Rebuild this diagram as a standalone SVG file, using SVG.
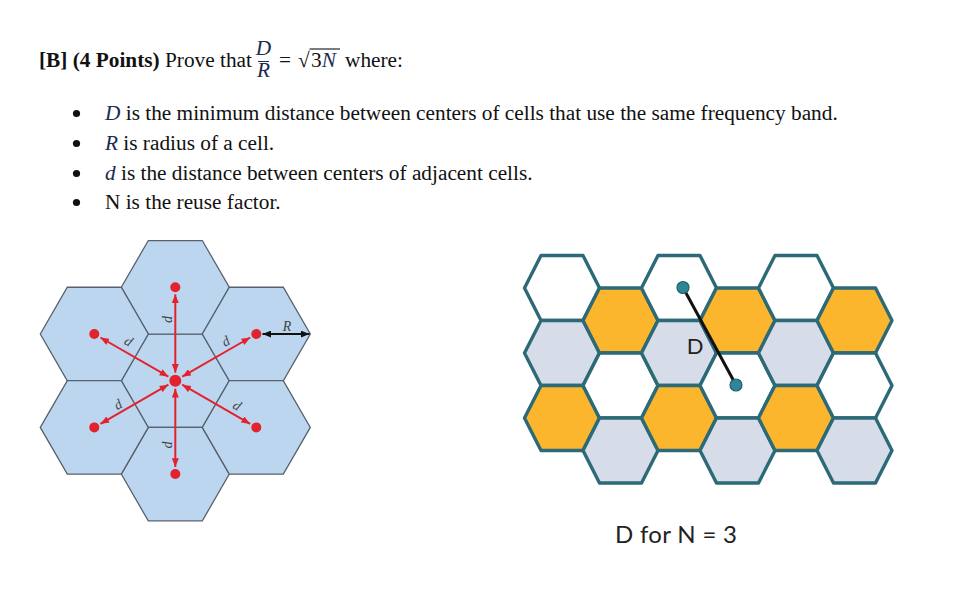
<svg xmlns="http://www.w3.org/2000/svg" width="954" height="612" viewBox="0 0 954 612">
<style>
.t{font-family:"Liberation Serif","Times New Roman",serif;font-size:21.3px;fill:#111}
.m{font-style:italic;fill:#1c2b4f}
.bu{fill:#111}
.bh{fill:#bcd6ef;stroke:#58616c;stroke-width:1.3}
.ra{stroke:#e2232e;stroke-width:2;fill:none;marker-start:url(#rh);marker-end:url(#rh)}
.rd{fill:#e2232e}
.dl{font-family:"Liberation Serif","Times New Roman",serif;font-style:italic;font-size:14px;fill:#444;text-anchor:middle}
.gh{stroke:#2c6a77;stroke-width:3.4;stroke-linejoin:round}
.w{fill:#ffffff}.o{fill:#fbb62e}.g{fill:#d7dce9}
</style>
<defs>
<marker id="rh" viewBox="0 0 10 8" refX="10" refY="4" markerWidth="9" markerHeight="7" markerUnits="userSpaceOnUse" orient="auto-start-reverse"><path d="M0,0 L10,4 L0,8 z" fill="#e2232e"/></marker>
<marker id="kh" viewBox="0 0 10 8" refX="10" refY="4" markerWidth="9" markerHeight="7" markerUnits="userSpaceOnUse" orient="auto-start-reverse"><path d="M0,0 L10,4 L0,8 z" fill="#111"/></marker>
<path id="hb" d="M-54,0 L-27,-46.77 L27,-46.77 L54,0 L27,46.77 L-27,46.77 Z"/>
<path id="hg" d="M-37.5,0 L-21,-32.5 L21,-32.5 L37.5,0 L21,32.5 L-21,32.5 Z"/>
</defs>
<rect width="954" height="612" fill="#ffffff"/>

<g id="header">
<text class="t" x="39" y="67"><tspan font-weight="bold">[B] (4 Points)</tspan> Prove that</text>
<text class="t m" x="263.5" y="55" font-size="11" text-anchor="middle">D</text>
<line x1="258" y1="61.5" x2="269" y2="61.5" stroke="#1c2b4f" stroke-width="1"/>
<text class="t m" x="263.5" y="76.5" font-size="11" text-anchor="middle">R</text>
<text class="t" x="279" y="67" font-size="20">=</text>
<text class="t" x="298" y="67" font-family="DejaVu Sans" font-size="20">√</text>
<line x1="309.5" y1="49" x2="340" y2="49" stroke="#111" stroke-width="1.1"/>
<text class="t" x="311" y="67">3<tspan class="m">N</tspan></text>
<text class="t" x="345" y="67">where:</text>
</g>

<g id="bullets">
<circle class="bu" cx="76.5" cy="113.5" r="3.6"/>
<circle class="bu" cx="76.5" cy="143.5" r="3.6"/>
<circle class="bu" cx="76.5" cy="173.5" r="3.6"/>
<circle class="bu" cx="76.5" cy="202.5" r="3.6"/>
<text class="t" x="105" y="120"><tspan class="m">D</tspan> is the minimum distance between centers of cells that use the same frequency band.</text>
<text class="t" x="105" y="150"><tspan class="m">R</tspan> is radius of a cell.</text>
<text class="t" x="105" y="180"><tspan class="m">d</tspan> is the distance between centers of adjacent cells.</text>
<text class="t" x="105" y="209">N is the reuse factor.</text>
</g>

<g id="left-cluster">
<g id="cell-c"><use href="#hb" class="bh" x="175.3" y="380.7"/></g>
<g id="cell-t"><use href="#hb" class="bh" x="175.3" y="287.3"/></g>
<g id="cell-b"><use href="#hb" class="bh" x="175.3" y="474.1"/></g>
<g id="cell-ul"><use href="#hb" class="bh" x="94.3" y="334"/></g>
<g id="cell-ur"><use href="#hb" class="bh" x="256.3" y="334"/></g>
<g id="cell-ll"><use href="#hb" class="bh" x="94.3" y="427.4"/></g>
<g id="cell-lr"><use href="#hb" class="bh" x="256.3" y="427.4"/></g>
<g id="left-connectors">
<line class="ra" x1="175.3" y1="372.7" x2="175.3" y2="294.3"/>
<line class="ra" x1="175.3" y1="388.7" x2="175.3" y2="467"/>
<line class="ra" x1="168.4" y1="376.7" x2="100.4" y2="337.5"/>
<line class="ra" x1="182.2" y1="376.7" x2="250.2" y2="337.5"/>
<line class="ra" x1="168.4" y1="384.7" x2="100.4" y2="423.9"/>
<line class="ra" x1="182.2" y1="384.7" x2="250.2" y2="423.9"/>
<line x1="262.5" y1="334" x2="309.5" y2="334" stroke="#111" stroke-width="2" marker-start="url(#kh)" marker-end="url(#kh)"/>
</g>
<g id="dots">
<circle class="rd" cx="175.3" cy="380.7" r="6"/>
<circle class="rd" cx="175.3" cy="287.3" r="5"/>
<circle class="rd" cx="175.3" cy="474" r="5"/>
<circle class="rd" cx="94.3" cy="334" r="5"/>
<circle class="rd" cx="256.3" cy="334" r="5"/>
<circle class="rd" cx="94.3" cy="427.4" r="5"/>
<circle class="rd" cx="256.3" cy="427.4" r="5"/>
</g>
<g id="labels">
<text class="dl" transform="translate(168.3,319.5) rotate(-90)" y="4">d</text>
<text class="dl" transform="translate(168.3,445) rotate(-90)" y="4">d</text>
<text class="dl" transform="translate(128.3,341.7) rotate(30)" y="4">d</text>
<text class="dl" transform="translate(226,341.7) rotate(-30)" y="4">d</text>
<text class="dl" transform="translate(118.3,405) rotate(-30)" y="4">d</text>
<text class="dl" transform="translate(236.7,406) rotate(30)" y="4">d</text>
<text class="dl" x="287" y="331" font-size="13" fill="#333">R</text>
</g>
</g>

<g id="right-grid">
<g id="c0r0"><use href="#hg" class="gh w" x="562" y="288"/></g>
<g id="c0r1"><use href="#hg" class="gh g" x="562" y="353"/></g>
<g id="c0r2"><use href="#hg" class="gh o" x="562" y="418"/></g>
<g id="c1r0"><use href="#hg" class="gh o" x="620.5" y="320.5"/></g>
<g id="c1r1"><use href="#hg" class="gh w" x="620.5" y="385.5"/></g>
<g id="c1r2"><use href="#hg" class="gh g" x="620.5" y="450.5"/></g>
<g id="c2r0"><use href="#hg" class="gh w" x="679" y="288"/></g>
<g id="c2r1"><use href="#hg" class="gh g" x="679" y="353"/></g>
<g id="c2r2"><use href="#hg" class="gh o" x="679" y="418"/></g>
<g id="c3r0"><use href="#hg" class="gh o" x="737.5" y="320.5"/></g>
<g id="c3r1"><use href="#hg" class="gh w" x="737.5" y="385.5"/></g>
<g id="c3r2"><use href="#hg" class="gh g" x="737.5" y="450.5"/></g>
<g id="c4r0"><use href="#hg" class="gh w" x="796" y="288"/></g>
<g id="c4r1"><use href="#hg" class="gh g" x="796" y="353"/></g>
<g id="c4r2"><use href="#hg" class="gh o" x="796" y="418"/></g>
<g id="c5r0"><use href="#hg" class="gh o" x="854.5" y="320.5"/></g>
<g id="c5r1"><use href="#hg" class="gh w" x="854.5" y="385.5"/></g>
<g id="c5r2"><use href="#hg" class="gh g" x="854.5" y="450.5"/></g>
<g id="right-connectors">
<line x1="683" y1="287.5" x2="736" y2="385" stroke="#111" stroke-width="3"/>
</g>
<circle cx="683" cy="287.5" r="6" fill="#2f8694" stroke="#235f6b" stroke-width="1.2"/>
<circle cx="736" cy="385" r="6" fill="#2f8694" stroke="#235f6b" stroke-width="1.2"/>
<text x="695" y="354" font-family="Lato,'Open Sans',sans-serif" font-size="22" fill="#222" text-anchor="middle">D</text>
</g>

<text id="caption" x="615" y="543" font-family="Lato,'Open Sans',sans-serif" font-size="24" fill="#222" textLength="122">D for N = 3</text>
</svg>
